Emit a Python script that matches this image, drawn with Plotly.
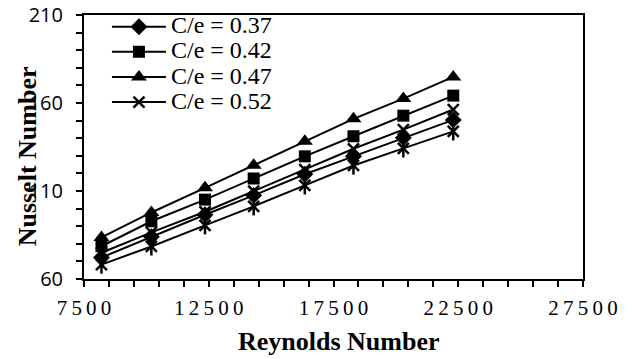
import plotly.graph_objects as go

# Reynolds numbers of the test runs
reynolds = [8200, 10200, 12350, 14300, 16350, 18300, 20300, 22300]

# Nusselt number for each pitch ratio C/e
nu_c037 = [72.2, 84.0, 96.5, 107.5, 119.5, 129.7, 140.2, 150.4]
nu_c042 = [78.6, 92.8, 105.1, 117.1, 129.7, 141.1, 152.8, 164.2]
nu_c047 = [83.6, 97.8, 111.8, 124.6, 138.3, 151.0, 162.5, 174.8]
nu_c052 = [74.9, 86.5, 98.2, 109.9, 122.2, 134.0, 144.9, 156.3]
nu_extra = [68.2, 78.5, 90.5, 101.3, 113.2, 124.5, 134.2, 143.9]

legend_labels = ["C/e = 0.37", "C/e = 0.42", "C/e = 0.47", "C/e = 0.52"]

x_tick_vals = list(range(7500, 27501, 1000))
x_tick_text = ["\u2009".join(str(v)) if (v - 7500) % 5000 == 0 else "" for v in x_tick_vals]
y_tick_vals = list(range(60, 211, 10))
y_tick_text = [str(v) if (v - 60) % 50 == 0 else "" for v in y_tick_vals]

BLACK = "#000000"
LINE_W = 2


def lbl(text):
    return '<span style="font-size:24px">' + text + "</span>"


fig = go.Figure()

fig.add_trace(go.Scatter(
    x=reynolds, y=nu_c037, mode="lines+markers", name=lbl(legend_labels[0]),
    line=dict(color=BLACK, width=LINE_W),
    marker=dict(symbol="diamond", size=13, color=BLACK),
))
fig.add_trace(go.Scatter(
    x=reynolds, y=nu_c042, mode="lines+markers", name=lbl(legend_labels[1]),
    line=dict(color=BLACK, width=LINE_W),
    marker=dict(symbol="square", size=12, color=BLACK),
))
fig.add_trace(go.Scatter(
    x=reynolds, y=nu_c047, mode="lines+markers", name=lbl(legend_labels[2]),
    line=dict(color=BLACK, width=LINE_W),
    marker=dict(symbol="triangle-up", size=14, color=BLACK),
))
fig.add_trace(go.Scatter(
    x=reynolds, y=nu_c052, mode="lines+markers", name=lbl(legend_labels[3]),
    line=dict(color=BLACK, width=LINE_W),
    marker=dict(symbol="x-thin", size=11, color=BLACK,
                line=dict(color=BLACK, width=2.5)),
))
# lowest curve: star marker built from an x plus a vertical stroke
fig.add_trace(go.Scatter(
    x=reynolds, y=nu_extra, mode="lines+markers", showlegend=False,
    line=dict(color=BLACK, width=LINE_W),
    marker=dict(symbol="x-thin", size=11, color=BLACK,
                line=dict(color=BLACK, width=2.5)),
))
fig.add_trace(go.Scatter(
    x=reynolds, y=nu_extra, mode="markers", showlegend=False,
    marker=dict(symbol="line-ns", size=13, color=BLACK,
                line=dict(color=BLACK, width=2.5)),
))

fig.update_layout(
    width=632, height=359,
    margin=dict(l=84, r=49, t=15, b=80, autoexpand=False),
    paper_bgcolor="white", plot_bgcolor="white",
    showlegend=True,
    legend=dict(
        x=0.046, y=1.022, xanchor="left", yanchor="top",
        bgcolor="rgba(0,0,0,0)", borderwidth=0,
        font=dict(family="Liberation Serif", size=17, color=BLACK),
        itemwidth=54, tracegroupgap=0,
    ),
    xaxis=dict(
        range=[7500, 27500], tickmode="array",
        tickvals=x_tick_vals, ticktext=x_tick_text,
        ticks="outside", ticklen=6, tickwidth=1.5, tickcolor=BLACK,
        showline=True, linecolor=BLACK, linewidth=2, mirror=True,
        showgrid=False, zeroline=False,
        tickfont=dict(family="Liberation Serif", size=21, color=BLACK),
        ticklabelstandoff=3,
    ),
    yaxis=dict(
        range=[60, 210], tickmode="array",
        tickvals=y_tick_vals, ticktext=y_tick_text,
        ticks="outside", ticklen=6, tickwidth=1.5, tickcolor=BLACK,
        showline=True, linecolor=BLACK, linewidth=2, mirror=True,
        showgrid=False, zeroline=False,
        tickfont=dict(family="Open Sans", size=20, color=BLACK),
        ticklabelstandoff=9,
    ),
    annotations=[
        dict(text="<b>Reynolds Number</b>", xref="paper", yref="paper",
             x=0.511, y=-0.235, xanchor="center", yanchor="middle",
             showarrow=False,
             font=dict(family="Liberation Serif", size=26, color=BLACK)),
        dict(text="<b>Nusselt Number</b>", xref="paper", yref="paper",
             x=-0.114, y=0.465, xanchor="center", yanchor="middle",
             textangle=-90, showarrow=False,
             font=dict(family="Liberation Serif", size=26, color=BLACK)),
    ],
)

fig.write_html("out.html")
